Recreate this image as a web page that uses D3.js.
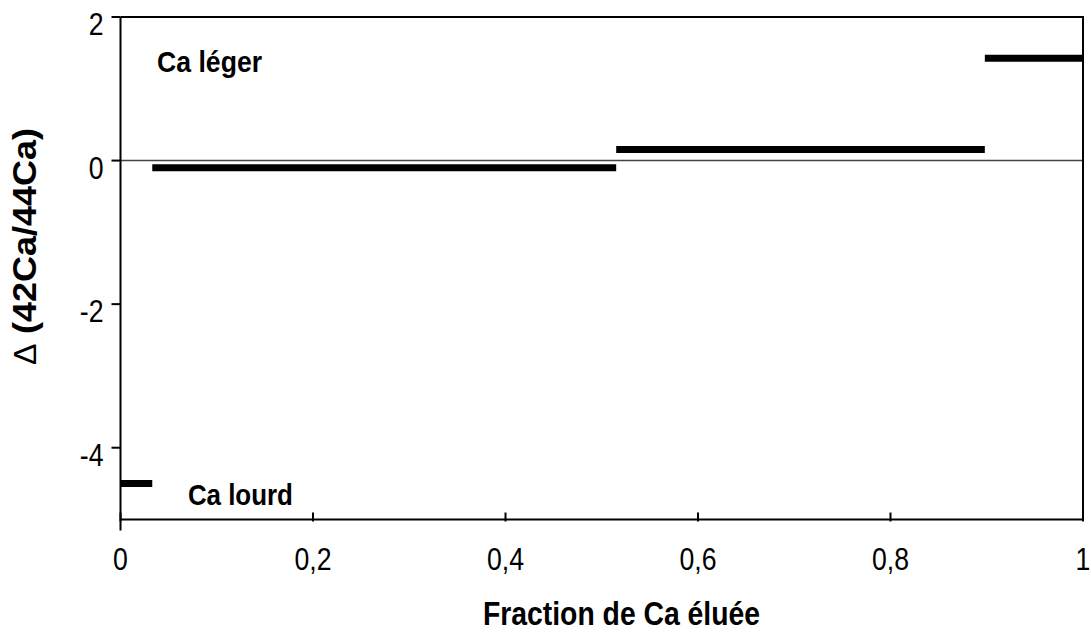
<!DOCTYPE html>
<html><head><meta charset="utf-8">
<script src="https://cdn.jsdelivr.net/npm/d3@7"></script>
<style>
body{margin:0;background:#fff;}
text{font-family:"Liberation Sans",Arial,sans-serif;fill:#000;}
</style></head>
<body><svg id="c" width="1091" height="632"></svg>
<script>
// Data
const segStart = [0, 0.033, 0.515, 0.898];
const segEnd   = [0.033, 0.515, 0.898, 1.0];
const segValue = [-4.5, -0.1, 0.155, 1.425];
const xTicks = [0, 0.2, 0.4, 0.6, 0.8, 1];
const xTickLabels = ["0", "0,2", "0,4", "0,6", "0,8", "1"];
const yTicks = [2, 0, -2, -4];
const yTickLabels = ["2", "0", "-2", "-4"];
const annotations = [{text:"Ca léger", x:0.038, y:1.23}, {text:"Ca lourd", x:0.07, y:-4.8}];
const xTitle = "Fraction de Ca éluée";
const yTitleSymbol = "\u0394";
const yTitle = "(42Ca/44Ca)";

const svg = d3.select("#c");
const L=120.5, R=1083, T=17, B=519.5;
const x = d3.scaleLinear().domain([0,1]).range([L,R]);
const y = d3.scaleLinear().domain([-5,2]).range([B,T]);

// zero line
svg.append("line").attr("x1",x(0)).attr("x2",x(1)).attr("y1",y(0)).attr("y2",y(0))
  .attr("stroke","#444").attr("stroke-width",1.5);

// segments
svg.selectAll("line.seg").data(segValue).enter().append("line").attr("class","seg")
  .attr("x1",(d,i)=>x(segStart[i])).attr("x2",(d,i)=>x(segEnd[i]))
  .attr("y1",d=>y(d)).attr("y2",d=>y(d))
  .attr("stroke","#000").attr("stroke-width",7);

// frame: top & right
svg.append("line").attr("x1",x(0)).attr("x2",x(1)+1).attr("y1",T).attr("y2",T).attr("stroke","#000").attr("stroke-width",2);
svg.append("line").attr("x1",x(1)).attr("x2",x(1)).attr("y1",T).attr("y2",B).attr("stroke","#000").attr("stroke-width",2);

// x axis
const gx = svg.append("g").attr("transform",`translate(0,${B})`);
gx.append("line").attr("x1",x(0)).attr("x2",x(1)+1).attr("stroke","#000").attr("stroke-width",2);
gx.selectAll("line.t").data(xTicks).enter().append("line").attr("class","t")
  .attr("x1",d=>x(d)).attr("x2",d=>x(d)).attr("y1",-7).attr("y2",2).attr("stroke","#000").attr("stroke-width",2);
gx.selectAll("text").data(xTicks).enter().append("text")
  .attr("transform",d=>`translate(${x(d)},50) scale(0.86,1)`).attr("text-anchor","middle").attr("font-size",31)
  .text((d,i)=>xTickLabels[i]);

// y axis
const gy = svg.append("g");
gy.append("line").attr("x1",L).attr("x2",L).attr("y1",T).attr("y2",B+11).attr("stroke","#000").attr("stroke-width",2);
gy.selectAll("line.t").data(yTicks).enter().append("line").attr("class","t")
  .attr("x1",L-9).attr("x2",L).attr("y1",d=>y(d)).attr("y2",d=>y(d)).attr("stroke","#000").attr("stroke-width",2);
gy.selectAll("text").data(yTicks).enter().append("text")
  .attr("transform",d=>`translate(${L-17},${y(d)+18}) scale(0.86,1)`).attr("text-anchor","end").attr("font-size",31)
  .text((d,i)=>yTickLabels[i]);

// annotations
svg.selectAll("text.ann").data(annotations).enter().append("text").attr("class","ann")
  .attr("x",d=>x(d.x)).attr("y",d=>y(d.y)).attr("font-size",30).attr("font-weight","bold")
  .attr("textLength",105).attr("lengthAdjust","spacingAndGlyphs")
  .text(d=>d.text);

// titles
svg.append("text").attr("x",483).attr("y",625)
  .attr("font-size",34).attr("font-weight","bold")
  .attr("textLength",277).attr("lengthAdjust","spacingAndGlyphs").text(xTitle);
svg.append("text").attr("transform","translate(36,365) rotate(-90)")
  .attr("font-size",32).attr("font-weight","normal").text(yTitleSymbol);
svg.append("text").attr("transform","translate(36,334) rotate(-90)")
  .attr("font-size",34).attr("font-weight","bold")
  .attr("textLength",206).attr("lengthAdjust","spacingAndGlyphs").text(yTitle);
</script></body></html>
